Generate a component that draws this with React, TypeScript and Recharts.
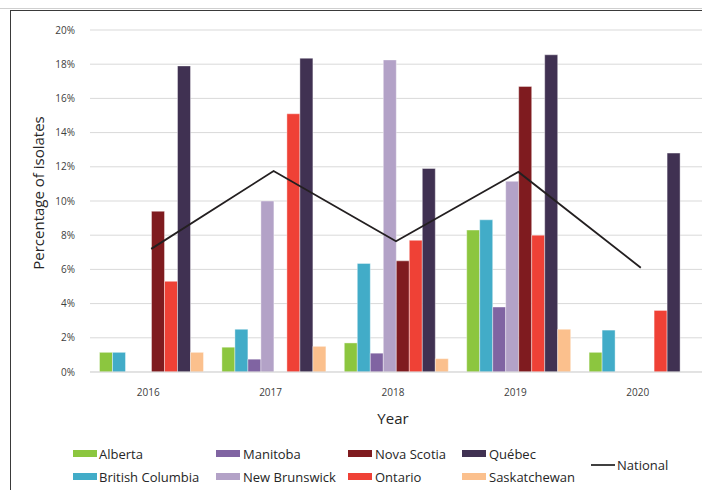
import React from 'react';
import { ComposedChart, Bar, Line, XAxis, YAxis, CartesianGrid } from 'recharts';

const years = ['2016', '2017', '2018', '2019', '2020'];
const alberta = [1.15, 1.45, 1.7, 8.3, 1.15];
const britishColumbia = [1.15, 2.5, 6.35, 8.9, 2.45];
const manitoba = [null, 0.75, 1.1, 3.8, null];
const newBrunswick = [null, 10.0, 18.25, 11.15, null];
const novaScotia = [9.4, null, 6.5, 16.7, null];
const ontario = [5.3, 15.1, 7.7, 8.0, 3.6];
const quebec = [17.9, 18.35, 11.9, 18.55, 12.8];
const saskatchewan = [1.15, 1.5, 0.78, 2.5, null];
const national = [7.2, 11.75, 7.65, 11.7, 6.1];
const yTicks = [0, 2, 4, 6, 8, 10, 12, 14, 16, 18, 20];

const series = [
  { key: 'alberta', name: 'Alberta', color: '#8cc63f', values: alberta },
  { key: 'bc', name: 'British Columbia', color: '#42acc8', values: britishColumbia },
  { key: 'manitoba', name: 'Manitoba', color: '#8064a2', values: manitoba },
  { key: 'nb', name: 'New Brunswick', color: '#b3a2c7', values: newBrunswick },
  { key: 'ns', name: 'Nova Scotia', color: '#7f1b1f', values: novaScotia },
  { key: 'ontario', name: 'Ontario', color: '#ef4136', values: ontario },
  { key: 'quebec', name: 'Québec', color: '#403152', values: quebec },
  { key: 'sask', name: 'Saskatchewan', color: '#fbc08d', values: saskatchewan },
];

const data = years.map((year, i) => {
  const row: Record<string, any> = { year, national: national[i] };
  series.forEach((s) => {
    row[s.key] = s.values[i];
  });
  return row;
});

const FONT = '"Open Sans", "Lato", sans-serif';

const legendCols = [
  { swatchX: 73, textX: 99, items: [0, 1] },
  { swatchX: 216, textX: 243, items: [2, 3] },
  { swatchX: 348, textX: 375, items: [4, 5] },
  { swatchX: 462, textX: 489, items: [6, 7] },
];
const legendRowsY = [453.5, 476.5];

export default function App() {
  return (
    <div
      style={{
        position: 'absolute',
        left: 0,
        top: 0,
        width: 702,
        height: 490,
        overflow: 'hidden',
        background: '#fff',
        fontFamily: FONT,
      }}
    >
      <div style={{ position: 'absolute', left: 0, top: 8, width: 702, height: 1, background: '#cfcfcf' }} />
      <div
        style={{
          position: 'absolute',
          left: 10,
          top: 10,
          width: 800,
          height: 600,
          borderLeft: '1.5px solid #3a3a3a',
          borderTop: '1.5px solid #3a3a3a',
        }}
      />
      <div style={{ position: 'absolute', left: 0, top: 0 }}>
        <ComposedChart
          width={702}
          height={490}
          data={data}
          margin={{ top: 30, right: 0, left: 0, bottom: 88 }}
          barCategoryGap={9.5}
          barGap={0}
        >
          <CartesianGrid vertical={false} stroke="#d9d9d9" strokeWidth={1} />
          <XAxis
            dataKey="year"
            height={30}
            axisLine={{ stroke: '#d9d9d9' }}
            tickLine={false}
            tickSize={0}
            tickMargin={17}
            tick={{ fontSize: 10, fill: '#404040', fontFamily: FONT, dx: -3 }}
          />
          <YAxis
            width={90}
            domain={[0, 20]}
            ticks={yTicks}
            axisLine={false}
            tickLine={false}
            tickSize={0}
            tickMargin={15}
            tickFormatter={(v: number) => `${v}%`}
            tick={{ fontSize: 10, fill: '#404040', fontFamily: FONT }}
            interval={0}
          />
          {series.map((s) => (
            <Bar
              key={s.key}
              dataKey={s.key}
              name={s.name}
              fill={s.color}
              stroke="#ffffff"
              strokeWidth={0.4}
              isAnimationActive={false}
            />
          ))}
          <Line
            dataKey="national"
            name="National"
            type="linear"
            stroke="#231f20"
            strokeWidth={1.8}
            dot={false}
            activeDot={false}
            isAnimationActive={false}
          />
        </ComposedChart>
      </div>
      <div
        style={{
          position: 'absolute',
          left: 38 - 100,
          top: 193 - 10,
          width: 200,
          height: 20,
          lineHeight: '20px',
          textAlign: 'center',
          fontSize: 15,
          color: '#262626',
          transform: 'rotate(-90deg)',
          whiteSpace: 'nowrap',
        }}
      >
        Percentage of isolates
      </div>
      <div
        style={{
          position: 'absolute',
          left: 393 - 50,
          top: 418 - 10,
          width: 100,
          height: 20,
          lineHeight: '20px',
          textAlign: 'center',
          fontSize: 15,
          color: '#262626',
        }}
      >
        Year
      </div>
      {legendCols.map((col) =>
        col.items.map((idx, r) => {
          const s = series[idx];
          const cy = legendRowsY[r];
          return (
            <React.Fragment key={s.key}>
              <div
                style={{
                  position: 'absolute',
                  left: col.swatchX,
                  top: cy - 3.5,
                  width: 24,
                  height: 7,
                  background: s.color,
                }}
              />
              <div
                style={{
                  position: 'absolute',
                  left: col.textX,
                  top: cy - 9,
                  height: 18,
                  lineHeight: '18px',
                  fontSize: 13,
                  color: '#262626',
                  whiteSpace: 'nowrap',
                }}
              >
                {s.name}
              </div>
            </React.Fragment>
          );
        })
      )}
      <div style={{ position: 'absolute', left: 591, top: 464, width: 24, height: 1.5, background: '#404040' }} />
      <div
        style={{
          position: 'absolute',
          left: 617,
          top: 465 - 9,
          height: 18,
          lineHeight: '18px',
          fontSize: 13,
          color: '#262626',
          whiteSpace: 'nowrap',
        }}
      >
        National
      </div>
    </div>
  );
}
